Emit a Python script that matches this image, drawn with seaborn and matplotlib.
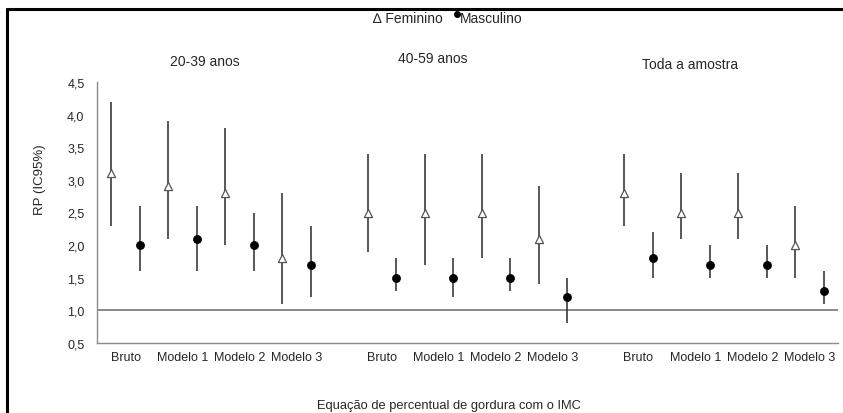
import matplotlib
matplotlib.use("Agg")
import matplotlib.pyplot as plt
from matplotlib.lines import Line2D
import seaborn as sns
import pandas as pd
import numpy as np


# ============================================================
# DADOS (RP e IC95%)
# ============================================================
grupos = ["20-39 anos", "40-59 anos", "Toda a amostra"]
modelos = ["Bruto", "Modelo 1", "Modelo 2", "Modelo 3"]

fem_rp = [3.1, 2.9, 2.8, 1.8, 2.5, 2.5, 2.5, 2.1, 2.8, 2.5, 2.5, 2.0]
fem_lo = [2.3, 2.1, 2.0, 1.1, 1.9, 1.7, 1.8, 1.4, 2.3, 2.1, 2.1, 1.5]
fem_hi = [4.2, 3.9, 3.8, 2.8, 3.4, 3.4, 3.4, 2.9, 3.4, 3.1, 3.1, 2.6]

masc_rp = [2.0, 2.1, 2.0, 1.7, 1.5, 1.5, 1.5, 1.2, 1.8, 1.7, 1.7, 1.3]
masc_lo = [1.6, 1.6, 1.6, 1.2, 1.3, 1.2, 1.3, 0.8, 1.5, 1.5, 1.5, 1.1]
masc_hi = [2.6, 2.6, 2.5, 2.3, 1.8, 1.8, 1.8, 1.5, 2.2, 2.0, 2.0, 1.6]

# espaco entre os grupos (em unidades de categoria)
GAP = 4.5
OFFSET = 0.25

rows = []
for gi, g in enumerate(grupos):
    for mi, m in enumerate(modelos):
        k = gi * len(modelos) + mi
        centro = gi * GAP + mi
        rows.append(dict(grupo=g, modelo=m, sexo="Feminino", pos=centro - OFFSET,
                         rp=fem_rp[k], lo=fem_lo[k], hi=fem_hi[k]))
        rows.append(dict(grupo=g, modelo=m, sexo="Masculino", pos=centro + OFFSET,
                         rp=masc_rp[k], lo=masc_lo[k], hi=masc_hi[k]))
df = pd.DataFrame(rows)

# ============================================================
# GRAFICO
# ============================================================
sns.set_style("white")
plt.rcParams["font.family"] = ["Liberation Sans", "DejaVu Sans"]

W, H = 843, 414
fig = plt.figure(figsize=(W / 100, H / 100), dpi=100)
ax = fig.add_axes([97 / W, 1 - 344 / H, (838 - 97) / W, (344 - 83) / H])

# linha de referencia RP = 1
ax.axhline(1.0, color="#6a6a6a", lw=1.1, zorder=1)

# intervalos de confianca
ax.vlines(df["pos"], df["lo"], df["hi"], color="#2b2b2b", lw=1.1, zorder=2)

fem = df[df["sexo"] == "Feminino"]
masc = df[df["sexo"] == "Masculino"]
sns.scatterplot(data=fem, x="pos", y="rp", marker="^", s=34, color="white",
                edgecolor="#555555", linewidth=0.9, legend=False, zorder=3, ax=ax)
sns.scatterplot(data=masc, x="pos", y="rp", marker="o", s=34, color="black",
                edgecolor="black", linewidth=0.5, legend=False, zorder=3, ax=ax)

ax.set_xlim(-0.5, (len(grupos) - 1) * GAP + len(modelos) - 0.5)
ax.set_ylim(0.5, 4.5)

yt = np.arange(0.5, 4.51, 0.5)
ax.set_yticks(yt)
ax.set_yticklabels([f"{v:.1f}".replace(".", ",") for v in yt], fontsize=9)

xt = [gi * GAP + mi for gi in range(len(grupos)) for mi in range(len(modelos))]
ax.set_xticks(xt)
ax.set_xticklabels(modelos * len(grupos), fontsize=9)

ax.tick_params(axis="y", length=0, pad=9)
ax.tick_params(axis="x", length=0, pad=6)
ax.set_xlabel("")
ax.set_ylabel("")

for side in ["top", "right"]:
    ax.spines[side].set_visible(False)
for side in ["left", "bottom"]:
    ax.spines[side].set_color("#8a8a8a")
    ax.spines[side].set_linewidth(1.0)

# titulos dos grupos
for g, (px, py) in zip(grupos, [(205, 62), (433, 59), (690, 65)]):
    fig.text(px / W, 1 - py / H, g, ha="center", va="center", fontsize=10)

# eixos
fig.text(449 / W, 1 - 406 / H, "Equação de percentual de gordura com o IMC",
         ha="center", va="center", fontsize=9.3)
fig.text(40 / W, 1 - 180 / H, "RP (IC95%)", rotation=90,
         ha="center", va="center", fontsize=9.5)

# legenda
fig.text(408 / W, 1 - 19 / H, "∆ Feminino", ha="center", va="center", fontsize=10)
fig.add_artist(Line2D([457 / W], [1 - 15 / H], marker="o", ms=4, color="black",
                      linestyle="none", transform=fig.transFigure))
fig.text(491 / W, 1 - 19 / H, "Masculino", ha="center", va="center", fontsize=10)

# moldura
fig.add_artist(Line2D([7 / W, 1], [1 - 10 / H, 1 - 10 / H], color="black", lw=2.2,
                      transform=fig.transFigure))
fig.add_artist(Line2D([7 / W, 7 / W], [0, 1 - 10 / H], color="black", lw=2.2,
                      transform=fig.transFigure))

plt.savefig("out.png", dpi=100)
plt.close()
